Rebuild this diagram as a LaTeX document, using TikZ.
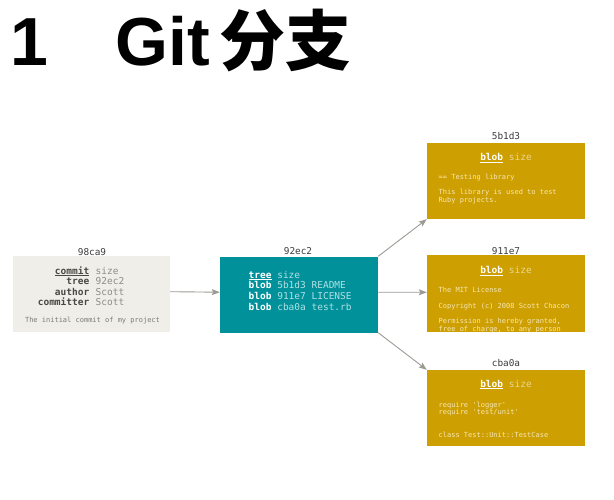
\documentclass[tikz,border=0pt]{standalone}
\usepackage{fontspec}
\setmonofont{DejaVu Sans Mono}
\newfontfamily\titlefont{Liberation Sans}
\newfontfamily\cjk{Noto Sans CJK SC}
\usetikzlibrary{arrows.meta}
\definecolor{commitbg}{HTML}{EFEEE8}
\definecolor{treebg}{HTML}{00919B}
\definecolor{blobbg}{HTML}{CE9F00}
\definecolor{arrowc}{HTML}{9D9A94}
\definecolor{ckey}{HTML}{4A4844}
\definecolor{cval}{HTML}{908C85}
\definecolor{cfoot}{HTML}{7F7B74}
\definecolor{tval}{HTML}{B2E0E2}
\definecolor{bsize}{HTML}{EBD690}
\definecolor{btext}{HTML}{F5E7B5}
\definecolor{labelc}{HTML}{3B3B3B}
\tikzset{
  box/.style={draw=none,minimum width=158pt,minimum height=76pt,inner sep=0pt},
  txt/.style={inner sep=0pt,font=\ttfamily\fontsize{9.5}{11}\selectfont},
  small/.style={inner sep=0pt,font=\ttfamily\fontsize{7}{8}\selectfont,text=btext,anchor=mid west},
  lbl/.style={inner sep=0pt,font=\ttfamily\fontsize{9.4}{11}\selectfont,text=labelc,anchor=mid},
  conn/.style={draw=arrowc,line width=0.9pt,-{Stealth[length=8pt,width=6pt,inset=1.5pt]}},
  ttl/.style={inner sep=0pt,anchor=base west,font=\titlefont\bfseries\fontsize{68}{80}\selectfont}
}
\begin{document}
\begin{tikzpicture}[x=1pt,y=-1pt]
\useasboundingbox (0,0) rectangle (614,499);
% title
\node[ttl] (t1) at (10,65) {1};
\node[ttl] (t2) at (115,65) {Git};
\node[ttl,font=\cjk\bfseries\fontsize{66}{80}\selectfont] (t3) at (219.5,65) {分支};
% boxes
\node[box,fill=commitbg,minimum width=157pt] (commit) at (91.5,294) {};
\node[box,fill=treebg] (tree) at (299,294.5) {};
\node[box,fill=blobbg] (b1) at (506,181) {};
\node[box,fill=blobbg,minimum height=77pt] (b2) at (506,293.5) {};
\node[box,fill=blobbg] (b3) at (506,408) {};
% labels
\node[lbl] (l0) at (92,253) {98ca9};
\node[lbl] (l1) at (298,252) {92ec2};
\node[lbl] (l2) at (506,137.5) {5b1d3};
\node[lbl] (l3) at (506,252.3) {911e7};
\node[lbl] (l4) at (506,364.3) {cba0a};
% commit content
\node[txt,anchor=mid east,text=ckey] (ck1) at (89.5,272) {\textbf{\underline{commit}}};
\node[txt,anchor=mid east,text=ckey] (ck2) at (89.5,282.7) {\textbf{tree}};
\node[txt,anchor=mid east,text=ckey] (ck3) at (89.5,293) {\textbf{author}};
\node[txt,anchor=mid east,text=ckey] (ck4) at (89.5,303.3) {\textbf{committer}};
\node[txt,anchor=mid west,text=cval] (cv1) at (95.5,272) {size};
\node[txt,anchor=mid west,text=cval] (cv2) at (95.5,282.7) {92ec2};
\node[txt,anchor=mid west,text=cval] (cv3) at (95.5,293) {Scott};
\node[txt,anchor=mid west,text=cval] (cv4) at (95.5,303.3) {Scott};
\node[small,text=cfoot,anchor=mid] (cf) at (92.5,320) {The initial commit of my project};
% tree content
\node[txt,anchor=mid west,text=white] (tr1) at (248.5,276) {\textbf{\underline{tree}} \textcolor{tval}{size}};
\node[txt,anchor=mid west,text=white] (tr2) at (248.5,286.7) {\textbf{blob} \textcolor{tval}{5b1d3 README}};
\node[txt,anchor=mid west,text=white] (tr3) at (248.5,297.7) {\textbf{blob} \textcolor{tval}{911e7 LICENSE}};
\node[txt,anchor=mid west,text=white] (tr4) at (248.5,308.3) {\textbf{blob} \textcolor{tval}{cba0a test.rb}};
% blob 1
\node[txt,anchor=mid,text=white] (h1) at (506,158.3) {\textbf{\underline{blob}} \textcolor{bsize}{size}};
\node[small] (s11) at (438.5,177.3) {== Testing library};
\node[small] (s12) at (438.5,192.7) {This library is used to test};
\node[small] (s13) at (438.5,200.5) {Ruby projects.};
% blob 2
\node[txt,anchor=mid,text=white] (h2) at (506,271.7) {\textbf{\underline{blob}} \textcolor{bsize}{size}};
\node[small] (s21) at (438.5,290.7) {The MIT License};
\node[small] (s22) at (438.5,306) {Copyright (c) 2008 Scott Chacon};
\begin{scope}
\clip (b2.south west) rectangle (b2.north east);
\node[small] (s23) at (438.5,321.3) {Permission is hereby granted,};
\node[small] (s24) at (438.5,329.3) {free of charge, to any person};
\end{scope}
% blob 3
\node[txt,anchor=mid,text=white] (h3) at (506,385) {\textbf{\underline{blob}} \textcolor{bsize}{size}};
\node[small] (s31) at (438.5,405) {require 'logger'};
\node[small] (s32) at (438.5,412.3) {require 'test/unit'};
\node[small] (s33) at (438.5,435) {class Test::Unit::TestCase};
% connectors
\draw[conn] ([yshift=2.3pt]commit.east) -- ([yshift=2.3pt]tree.west);
\draw[conn] (tree.north east) -- (b1.south west);
\draw[conn] ([yshift=2.3pt]tree.east) -- ([yshift=1.2pt]b2.west);
\draw[conn] (tree.south east) -- (b3.north west);
\end{tikzpicture}
\end{document}
